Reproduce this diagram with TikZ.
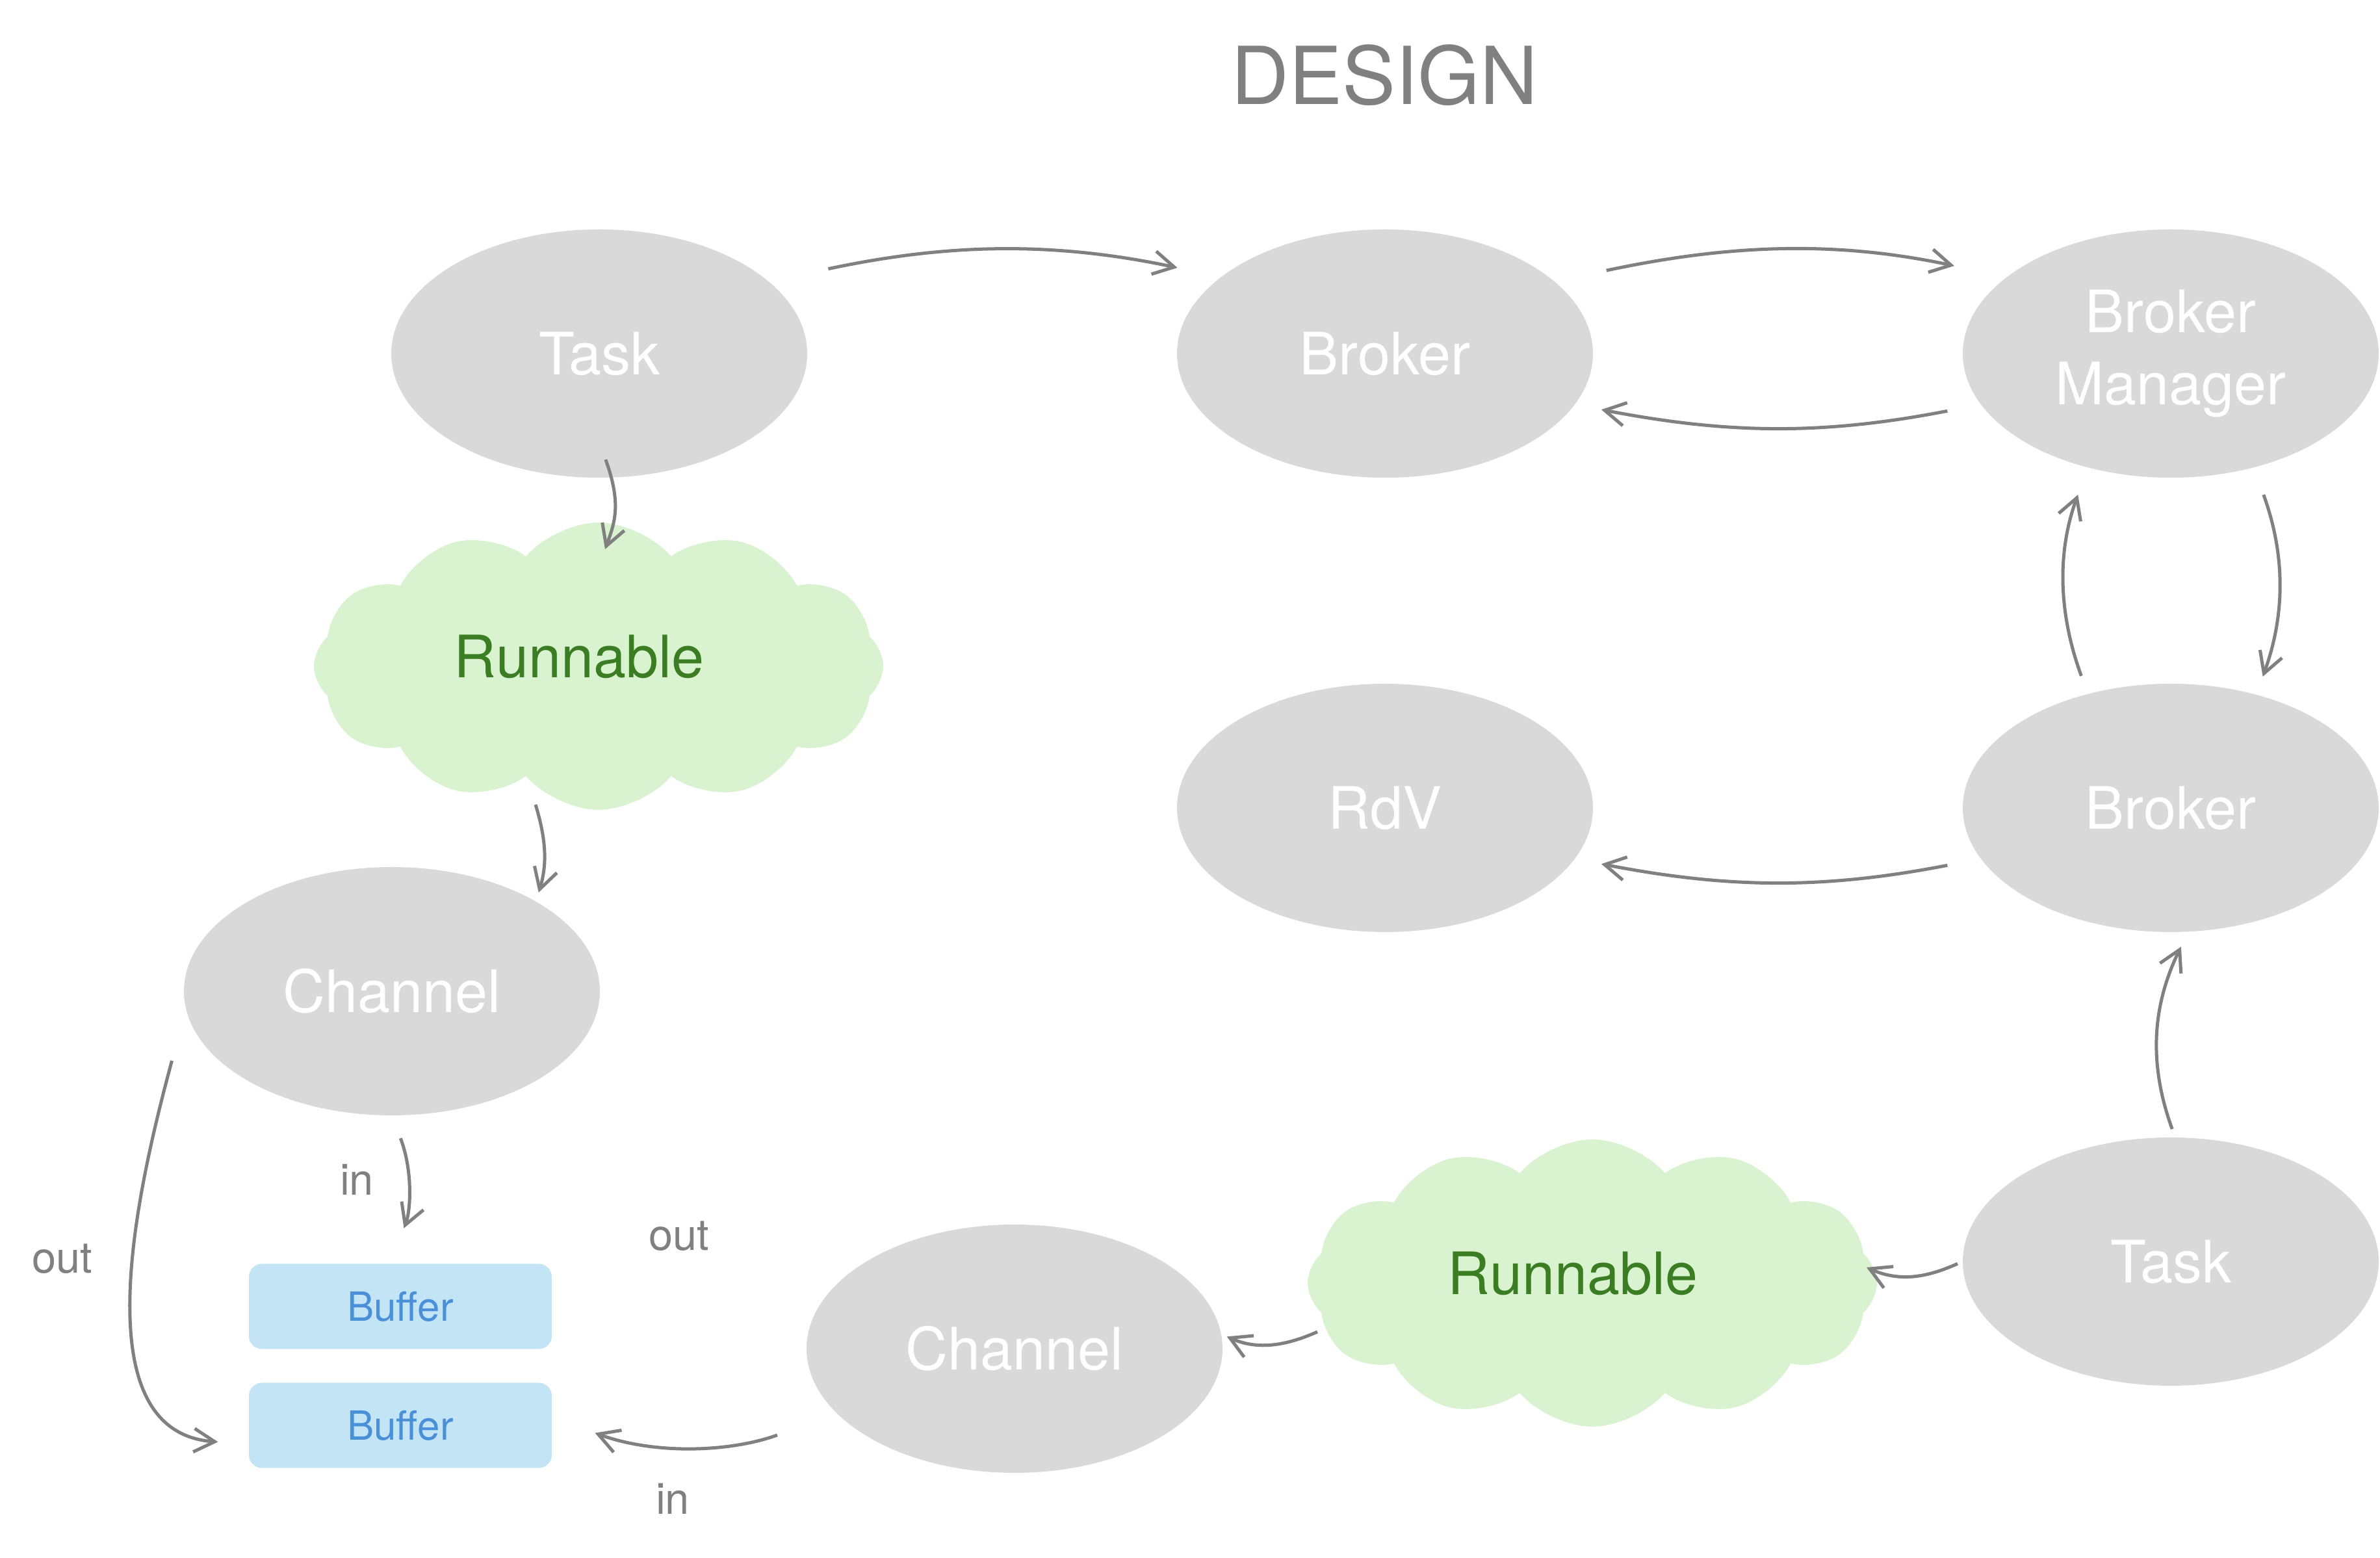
\documentclass[tikz,border=0pt]{standalone}
\usepackage{fontspec}
\setmainfont{TeX Gyre Heros}
\usepackage{xcolor}
\definecolor{colorBlob}{HTML}{D9D9D9}
\definecolor{colorArrow}{HTML}{808080}
\definecolor{colorCloud}{HTML}{D9F2D0}
\definecolor{colorRun}{HTML}{3A7D22}
\definecolor{colorBuffer}{HTML}{C3E4F4}
\definecolor{colorBufferText}{HTML}{4A90D9}
\usetikzlibrary{arrows.meta, shapes.geometric, shapes.symbols, positioning}
\tikzset{
  blob/.style={ellipse, fill=colorBlob, text=white, minimum width=6.4cm, minimum height=3.82cm, inner sep=0pt, align=center, font=\fontsize{25.6}{31.5}\selectfont},
  runnable/.style={cloud, cloud puffs=12, cloud puff arc=100, cloud ignores aspect, fill=colorCloud, minimum width=8.76cm, minimum height=4.42cm},
  runtext/.style={text=colorRun, font=\fontsize{25.6}{30.7}\selectfont, xshift=-0.3cm, yshift=0.15cm},
  buffer/.style={rectangle, rounded corners=0.2cm, fill=colorBuffer, text=colorBufferText, minimum width=4.66cm, minimum height=1.31cm, inner sep=0pt, font=\fontsize{17.6}{21}\selectfont},
  flow/.style={draw=colorArrow, line width=0.05cm, -{Straight Barb[length=0.32cm,width=0.36cm]}},
  portlabel/.style={text=colorArrow, font=\fontsize{19}{23}\selectfont}
}
\begin{document}
\begin{tikzpicture}[node distance=12.09cm]
\useasboundingbox (0,0) rectangle (36.62,23.97);
\node[text=colorArrow, font=\fontsize{35}{42}\selectfont] (title) at (21.30,22.81) {DESIGN};
\node[blob] (taskA) at (9.22,18.53) {Task};
\node[blob, right of=taskA] (brokerA) {Broker};
\node[blob, right of=brokerA] (manager) {Broker\\Manager};
\node[blob, below of=brokerA, node distance=6.99cm] (rdv) {RdV};
\node[blob, below of=manager, node distance=6.99cm] (brokerB) {Broker};
\node[blob, below of=brokerB, node distance=6.98cm] (taskB) {Task};
\node[runnable, label={[runtext]center:Runnable}] (runA) at (9.21,13.72) {};
\node[blob] (channelA) at (6.03,8.72) {Channel};
\node[runnable, label={[runtext]center:Runnable}] (runB) at (24.50,4.23) {};
\node[blob] (channelB) at (15.61,3.22) {Channel};
\node[buffer] (buffer1) at (6.16,3.87) {Buffer};
\node[buffer, below of=buffer1, node distance=1.83cm] (buffer2) {Buffer};
\node[portlabel] (inA) at (5.49,5.82) {in};
\node[portlabel] (outA) at (0.96,4.60) {out};
\node[portlabel] (outB) at (10.45,4.95) {out};
\node[portlabel] (inB) at (10.35,0.91) {in};
\draw[flow, shorten <=0.93cm, shorten >=0.68cm] (taskA.23) to[out=12, in=168] (brokerA.155);
\draw[flow, shorten <=0.81cm, shorten >=0.82cm] (brokerA.23) to[out=12, in=168] (manager.155);
\draw[flow, shorten <=0.52cm, shorten >=0.41cm] (manager.195) to[out=191, in=-11] (brokerA.345);
\draw[flow, shorten <=0.52cm, shorten >=0.41cm] (brokerB.195) to[out=191, in=-11] (rdv.345);
\draw[flow, shorten <=0.44cm, shorten >=0.29cm] (manager.-54) to[out=-70, in=70] (brokerB.53.5);
\draw[flow, shorten <=0.29cm, shorten >=0.44cm] (brokerB.126.5) to[out=110, in=-110] (manager.-126);
\draw[flow, shorten <=0.13cm, shorten >=0.25cm] (taskB.88) to[out=110, in=-116] (brokerB.-82);
\draw[flow, shorten <=0.08cm] (taskB.west) to[out=204, in=-24] ([shift={(4.22,0.24)}]runB.center);
\draw[flow, shorten >=0.09cm] ([shift={(-4.23,-0.75)}]runB.center) to[out=204, in=-24] (channelB.4);
\draw[flow, shorten <=0.97cm, shorten >=0.70cm] (channelB.200) to[out=200, in=-20] (buffer2.3);
\draw[flow, shorten <=-0.30cm] (taskA.-84.5) to[out=-70, in=70] ([shift={(0.10,1.80)}]runA.center);
\draw[flow, shorten >=0.14cm] ([shift={(-0.97,-2.13)}]runA.center) to[out=-73, in=73] (channelA.32);
\draw[flow, shorten <=0.37cm, shorten >=0.58cm] (channelA.south) to[out=-69, in=69] (buffer1.103);
\draw[flow, shorten <=0.82cm, shorten >=0.47cm] (channelA.185) to[out=-105, in=176] (buffer2.187);
\end{tikzpicture}
\end{document}
